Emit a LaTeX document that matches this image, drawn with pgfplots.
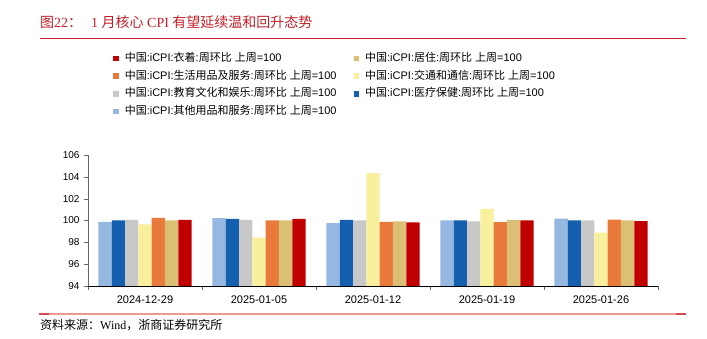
\documentclass[border=0pt]{standalone}
\usepackage{fontspec}
\usepackage{pgfplots}
\pgfplotsset{compat=1.18}
\setmainfont{Liberation Sans}
\newfontfamily\cjk{Noto Sans CJK SC}
\newfontfamily\tserif{Liberation Serif}
\definecolor{cLB}{RGB}{149,183,224}
\definecolor{cDB}{RGB}{21,96,174}
\definecolor{cGR}{RGB}{200,200,200}
\definecolor{cYE}{RGB}{248,240,156}
\definecolor{cOR}{RGB}{234,122,60}
\definecolor{cTA}{RGB}{218,191,116}
\definecolor{cRE}{RGB}{192,0,0}
\definecolor{tred}{RGB}{196,30,40}
\definecolor{lpink}{RGB}{236,150,150}
\newcommand{\LE}[1]{{\cjk 中国}:iCPI:{\cjk #1}:{\cjk 周环比} {\cjk 上周}=100}
\begin{document}
\begin{tikzpicture}[x=1pt,y=1pt]
\path[use as bounding box] (0,0) rectangle (707,339);
% title
\node[anchor=west,inner sep=0pt,text=tred,font=\fontsize{14}{16}\selectfont] at (40,317)
  {{\cjk 图}\tserif 22{\cjk ：}\hspace{9pt}1 {\cjk 月核心} CPI {\cjk 有望延续温和回升态势}};
\draw[tred,line width=1pt] (40,300) -- (686,300);
% bottom line
\draw[lpink,line width=1.1pt] (40,25) -- (686,25);
\draw[tred!80,line width=1.1pt] (39,25) -- (49,25);
\draw[tred!80,line width=1.1pt] (676,25) -- (686,25);
\node[anchor=west,inner sep=0pt,font=\fontsize{12}{14}\selectfont] at (40,14)
  {{\cjk 资料来源：}\tserif Wind{\cjk ，浙商证券研究所}};
\begin{axis}[
  at={(88pt,53pt)}, anchor=south west,
  scale only axis, width=570pt, height=131pt,
  ybar=0pt, bar width=13.3pt,
  xmin=-0.5, xmax=4.5, ymin=94, ymax=106,
  ytick={94,96,...,106},
  xtick={0,1,2,3,4},
  xticklabels={2024-12-29,2025-01-05,2025-01-12,2025-01-19,2025-01-26},
  minor xtick={-0.5,0.5,1.5,2.5,3.5,4.5},
  major x tick style={draw=none},
  minor tick length=4pt, major tick length=4pt,
  tick align=outside,
  axis x line*=bottom, axis y line*=left,
  axis line style={-},
  x axis line style={black,line width=0.8pt},
  y axis line style={black!60,line width=0.6pt},
  ytick style={black!60},
  minor x tick style={black!60},
  /pgf/number format/assume math mode=true,
  yticklabel style={font=\fontsize{10}{12}\selectfont, xshift=-1pt},
  xticklabel style={font=\fontsize{11}{13}\selectfont, yshift=-2pt},
  reverse legend,
  legend columns=2,
  legend cell align=left,
  legend image code/.code={\fill[#1,draw=none] (0pt,-2.8pt) rectangle (5.6pt,2.8pt);},
  legend style={at={(axis description cs:0.0386,1.80)}, anchor=north west,
    draw=none, fill=none, font=\fontsize{11}{13}\selectfont,
    row sep=5.7pt,
    nodes={inner sep=0pt, text height=9pt, text depth=3pt},
    /tikz/every odd column/.append style={column sep=6pt},
    /tikz/every even column/.append style={column sep=17pt}},
]
\addplot[fill=cLB,draw=none] coordinates {(0,99.88) (1,100.21) (2,99.76) (3,100.00) (4,100.18)};
\addlegendentry{\LE{其他用品和服务}}
\addplot[fill=cDB,draw=none] coordinates {(0,100.00) (1,100.15) (2,100.06) (3,100.00) (4,100.00)};
\addlegendentry{\LE{医疗保健}}
\addplot[fill=cGR,draw=none] coordinates {(0,100.06) (1,100.06) (2,100.00) (3,99.91) (4,100.00)};
\addlegendentry{\LE{教育文化和娱乐}}
\addplot[fill=cYE,draw=none] coordinates {(0,99.64) (1,98.42) (2,104.33) (3,101.06) (4,98.88)};
\addlegendentry{\LE{交通和通信}}
\addplot[fill=cOR,draw=none] coordinates {(0,100.24) (1,100.00) (2,99.88) (3,99.85) (4,100.09)};
\addlegendentry{\LE{生活用品及服务}}
\addplot[fill=cTA,draw=none] coordinates {(0,100.00) (1,100.00) (2,99.91) (3,100.06) (4,100.00)};
\addlegendentry{\LE{居住}}
\addplot[fill=cRE,draw=none] coordinates {(0,100.06) (1,100.15) (2,99.82) (3,100.00) (4,99.94)};
\addlegendentry{\LE{衣着}}
\end{axis}
\end{tikzpicture}
\end{document}
